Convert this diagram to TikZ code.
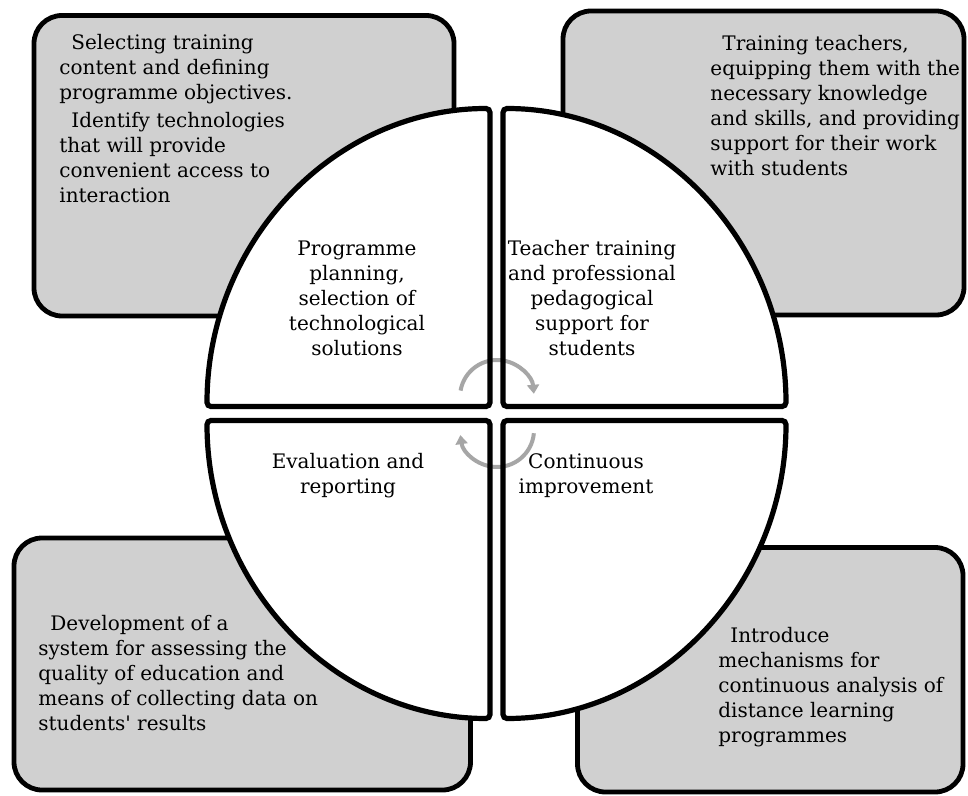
\documentclass[tikz,border=0pt]{standalone}
\usepackage{fontspec}
\setmainfont{DejaVu Serif}
\usetikzlibrary{arrows.meta}

\definecolor{boxgray}{RGB}{208,208,208}
\definecolor{turngray}{RGB}{166,166,166}
% straight apostrophe, kept out of the tex-text mapping
\newcommand{\apos}{\XeTeXglyph\XeTeXcharglyph"27\relax}
% corner x / corner y / start angle / end angle of each quarter
\newcommand{\quarters}{490/-406.5/180/90, 503/-406.5/0/90, 490/-420.5/180/270, 503/-420.5/0/-90}

\begin{document}
\begin{tikzpicture}[x=0.5pt, y=0.5pt,
  card/.style={draw, line width=2.4pt, fill=boxgray, rounded corners=14pt},
  quarter/.style={line width=2.6pt, rounded corners=2pt},
  txt/.style={inner sep=0pt, font=\fontsize{10pt}{12.5pt}\selectfont},
  turn/.style={line width=2pt, draw=turngray, -{Triangle[length=4.5pt,width=6pt]}}]
\useasboundingbox (0,0) rectangle (968,-796);

% grey cards behind the circle
\draw[card] (34,-15.5) rectangle (454,-316);
\draw[card] (563,-11) rectangle (964,-315);
\draw[card] (14,-538) rectangle (470.5,-790);
\draw[card] (577.5,-547.5) rectangle (963,-792);

% the four quarters
\foreach \cx/\cy/\sa/\ea in \quarters
  \fill[white, quarter] (\cx,\cy) -- ++(\sa:283 and 298)
    arc[start angle=\sa, end angle=\ea, x radius=283, y radius=298] -- cycle;

% cycle arrows in the middle
\draw[turn] (497,-397) ++(170:37) arc[start angle=170, end angle=5, radius=37];
\draw[turn] (497,-430) ++(-5:37) arc[start angle=-5, end angle=-172, radius=37];

\foreach \cx/\cy/\sa/\ea in \quarters
  \draw[quarter] (\cx,\cy) -- ++(\sa:283 and 298)
    arc[start angle=\sa, end angle=\ea, x radius=283, y radius=298] -- cycle;

% stage names (anchored on the last line)
\node[txt, align=center, anchor=base] (plan) at (357,-356)
  {Programme\\ planning,\\ selection of\\ technological\\ solutions};
\node[txt, align=center, anchor=base] (teach) at (592,-356)
  {Teacher training\\ and professional\\ pedagogical\\ support for\\ students};
\node[txt, align=center, anchor=base] (eval) at (348,-493)
  {Evaluation and\\ reporting};
\node[txt, align=center, anchor=base] (improve) at (586,-493)
  {Continuous\\ improvement};

% card texts
\node[txt, align=left, anchor=base west] (plantext) at (59,-203)
  {\hspace*{6pt}Selecting training\\ content and defining\\ programme objectives.\\[1.5pt]
   \hspace*{6pt}Identify technologies\\ that will provide\\ convenient access to\\ interaction};
\node[txt, align=left, anchor=base west] (teachtext) at (710,-176)
  {\hspace*{6pt}Training teachers,\\ equipping them with the\\ necessary knowledge\\
   and skills, and providing\\ support for their work\\ with students};
\node[txt, align=left, anchor=base west] (evaltext) at (38,-730)
  {\hspace*{6pt}Development of a\\ system for assessing the\\ quality of education and\\
   means of collecting data on\\ students\apos{} results};
\node[txt, align=left, anchor=base west] (improvetext) at (718,-742)
  {\hspace*{6pt}Introduce\\ mechanisms for\\ continuous analysis of\\ distance learning\\ programmes};
\end{tikzpicture}
\end{document}
